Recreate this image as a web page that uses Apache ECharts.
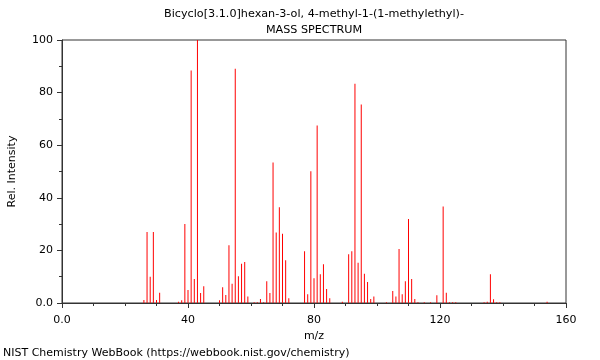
<!DOCTYPE html>
<html>
<head>
<meta charset="utf-8">
<script src="https://cdn.jsdelivr.net/npm/echarts@6/dist/echarts.min.js"></script>
<style>
html,body{margin:0;padding:0;background:#fff;}
#c{width:600px;height:360px;}
</style>
</head>
<body>
<div id="c"></div>
<script>
const titleLines = ["Bicyclo[3.1.0]hexan-3-ol, 4-methyl-1-(1-methylethyl)-", "MASS SPECTRUM"];
const footer = "NIST Chemistry WebBook (https://webbook.nist.gov/chemistry)";
const mz = [26,27,28,29,30,31,37,38,39,40,41,42,43,44,45,50,51,52,53,54,55,56,57,58,59,61,62,63,64,65,66,67,68,69,70,71,72,77,78,79,80,81,82,83,84,85,89,91,92,93,94,95,96,97,98,99,103,105,106,107,108,109,110,111,112,113,115,117,119,121,122,123,124,125,134,135,136,137,138,139,154];
const intensity = [1.1,27,10,27,1.1,3.9,0.5,1,30,4.9,88.4,9.1,100,3.8,6.4,1,6,3,22,7.3,89.1,10.2,14.9,15.6,2.5,0.3,0.3,1.5,0.3,8.3,3.8,53.4,26.8,36.4,26.3,16.3,1.8,19.7,3.3,50.1,9.4,67.5,10.9,14.7,5.3,1.8,0.5,18.5,19.7,83.4,15.3,75.5,11.1,8,1.5,2.5,0.3,4.6,2.5,20.5,3.3,8.3,31.9,9.1,1.5,0.3,0.3,0.3,2.9,36.7,3.9,0.3,0.3,0.3,0.3,0.5,10.9,1.4,0.3,0.3,0.5];
const xTicks = [0,40,80,120,160];
const yTicks = [0,20,40,60,80,100];

const data = mz.map((m,i)=>[m,intensity[i]]);
const fmt = v => v === 0 ? "0.0" : String(v);
const chart = echarts.init(document.getElementById('c'), null, {renderer:'canvas'});
const font = 'DejaVu Sans';
const txt = (s, x, y, align, size) => ({
  type:'text', x:x, y:y,
  style:{text:s, fill:'#000', font:(size||11)+'px "DejaVu Sans"', textAlign:align, textVerticalAlign:'middle'}
});
chart.setOption({
  animation:false,
  backgroundColor:'#fff',
  graphic:[
    txt(titleLines[0], 314, 14, 'center', 11.2),
    txt(titleLines[1], 314, 30, 'center', 11.2),
    txt(footer, 3, 353, 'left', 11)
  ],
  grid:{left:62, right:34, top:40, bottom:57, show:true, borderColor:'#333', borderWidth:1, outerBoundsMode:'none', containLabel:false},
  xAxis:{
    type:'value', min:xTicks[0], max:xTicks[xTicks.length-1], interval:40,
    name:'m/z', nameLocation:'middle', nameGap:26,
    nameTextStyle:{fontFamily:font,fontSize:11,color:'#000'},
    axisLine:{show:true,onZero:false,lineStyle:{color:'#333'}},
    axisTick:{show:true,length:5,lineStyle:{color:'#333'}},
    minorTick:{show:true,splitNumber:4,length:3,lineStyle:{color:'#333'}},
    axisLabel:{fontFamily:font,fontSize:11,color:'#000',formatter:fmt,margin:12},
    splitLine:{show:false}
  },
  yAxis:{
    type:'value', min:yTicks[0], max:yTicks[yTicks.length-1], interval:20,
    name:'Rel. Intensity', nameLocation:'middle', nameGap:44,
    nameTextStyle:{fontFamily:font,fontSize:11,color:'#000'},
    axisLine:{show:true,lineStyle:{color:'#333'}},
    axisTick:{show:true,length:5,lineStyle:{color:'#333'}},
    minorTick:{show:true,splitNumber:2,length:3,lineStyle:{color:'#333'}},
    axisLabel:{fontFamily:font,fontSize:11,color:'#000',formatter:fmt,margin:9},
    splitLine:{show:false}
  },
  series:[{
    type:'bar', data:data, barWidth:1, barGap:'-100%',
    itemStyle:{color:'#ff0000'}, silent:true
  }]
});
</script>
</body>
</html>
